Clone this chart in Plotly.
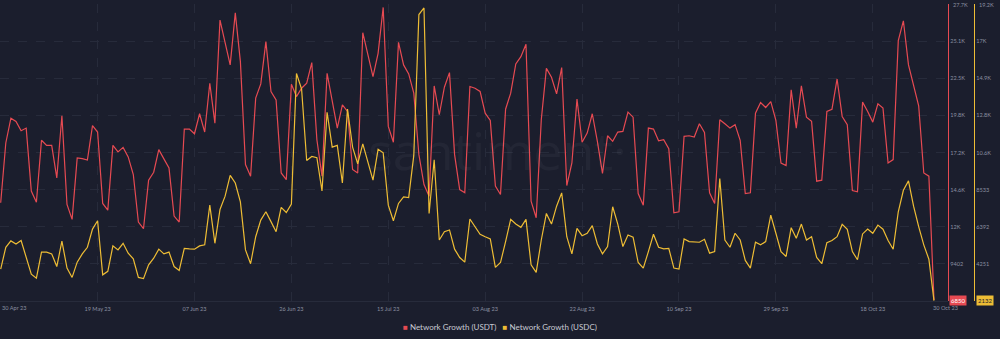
import pandas as pd
import plotly.graph_objects as go

start_date = "2023-04-30"

usdt = [
    13710, 17920, 19670, 19440, 18780, 18970, 14530, 13750, 18110, 17750,
    17750, 15460, 19840, 13590, 12540, 16870, 16820, 16720, 19140, 18690,
    13660, 13190, 17750, 17290, 17610, 16940, 15700, 12350, 11880, 15300,
    15860, 17450, 16800, 16160, 12770, 12350, 18900, 18900, 18570, 19980,
    18690, 22130, 19320, 26580, 24990, 23420, 27090, 23650, 16400, 15580,
    21080, 22080, 25060, 21550, 20960, 15810, 15340, 22060, 21190, 21780,
    22130, 23580, 18150, 15580, 22830, 20960, 18970, 20610, 20140, 16050,
    15810, 25690, 24120, 22600, 24240, 27470, 19090, 17970, 25010, 23420,
    22790, 21430, 17100, 14990, 14170, 21940, 19910, 21850, 22880, 17100,
    14640, 14410, 21900, 21780, 21550, 20020, 19510, 14880, 14290, 20300,
    21430, 23490, 24000, 24870, 13820, 12650, 19560, 23180, 22550, 21380,
    23230, 14920, 16510, 21010, 17970, 18620, 19980, 18040, 15770, 18430,
    18040, 18690, 18740, 20090, 19740, 14360, 13540, 18970, 18900, 18080,
    18150, 17520, 13000, 13070, 18390, 18430, 18340, 19280, 18670, 14410,
    13660, 19560, 19280, 18970, 19210, 18110, 14360, 14410, 20020, 20770,
    20420, 20840, 19510, 16510, 16330, 21660, 18970, 21940, 19740, 19440,
    15230, 15300, 20140, 20300, 22430, 19790, 19210, 14570, 14480, 20800,
    20140, 19390, 20680, 20380, 16510, 16750, 25130, 26530, 23420, 21900,
    20540, 15810, 15580, 6850,
]

usdc = [
    3950, 5210, 5580, 5400, 5600, 4680, 3660, 3430, 4930, 4930,
    4830, 4100, 5560, 4010, 3470, 4350, 4830, 5210, 6260, 6740,
    3620, 3820, 5290, 5060, 5440, 4870, 4540, 3470, 3400, 4200,
    4580, 5100, 4830, 4930, 4100, 3870, 5150, 5120, 5100, 5290,
    5350, 7640, 5440, 7390, 8160, 9360, 8920, 7830, 5060, 4260,
    5820, 6780, 7260, 6690, 6110, 7510, 7220, 7700, 15240, 14340,
    10220, 10450, 10380, 8460, 13000, 10990, 11090, 8920, 13190, 10990,
    10030, 11180, 10130, 9080, 10860, 10660, 7640, 6740, 7740, 8120,
    8080, 10510, 18640, 19020, 7160, 10260, 5630, 6110, 6210, 5100,
    4620, 4350, 6840, 6400, 5960, 5820, 5690, 4050, 4330, 5540,
    6820, 6550, 6360, 6820, 4200, 3760, 5630, 7160, 6550, 7580,
    8350, 5820, 4830, 6300, 5880, 6020, 6460, 5400, 4830, 5250,
    7550, 6550, 5250, 5920, 5790, 4330, 4010, 4960, 5960, 5210,
    5120, 5150, 4010, 3950, 5690, 5540, 5500, 5500, 5670, 4870,
    4960, 9170, 5630, 5210, 6020, 5630, 4450, 4010, 5500, 5350,
    5540, 7070, 6020, 4960, 4680, 6340, 5730, 6550, 5630, 5820,
    4620, 4260, 5480, 5600, 5820, 6530, 6250, 4960, 4490, 5980,
    6260, 6020, 6490, 6250, 5600, 5100, 7260, 8500, 9040, 7580,
    6400, 5350, 4520, 2132,
]

usdt_ticks = [9402, 12016, 14630, 17244, 19858, 22472, 25086, 27700]
usdt_ticktext = ["9402", "12K", "14.6K", "17.2K", "19.8K", "22.5K", "25.1K", "27.7K"]
usdt_range = [6788, 27712]

usdc_ticks = [4251, 6392, 8533, 10674, 12815, 14956, 17097, 19238]
usdc_ticktext = ["4251", "6392", "8533", "10.6K", "12.8K", "14.9K", "17K", "19.2K"]
usdc_range = [2110, 19248]

x_tick_dates = ["2023-05-19", "2023-06-07", "2023-06-26", "2023-07-15",
                "2023-08-03", "2023-08-22", "2023-09-10", "2023-09-29", "2023-10-18"]
first_label = "30 Apr 23"
last_label = "30 Oct 23"

names = ["Network Growth (USDT)", "Network Growth (USDC)"]

RED = "#e64a52"
YEL = "#eebd35"
BG = "#1b1e2d"
GRID = "#272b3b"
TXT = "#8a8fa0"
FS = 5.6

dates = pd.date_range(start_date, periods=len(usdt), freq="D")

fig = go.Figure()
fig.add_trace(go.Scatter(x=dates, y=usdt, mode="lines", name=names[0],
                         line=dict(color=RED, width=1.2), yaxis="y"))
fig.add_trace(go.Scatter(x=dates, y=usdc, mode="lines", name=names[1],
                         line=dict(color=YEL, width=1.2), yaxis="y2"))

x0 = dates[0] - pd.Timedelta(hours=3.3)
x1 = dates[-1] + pd.Timedelta(hours=66)

fig.update_layout(
    width=1000, height=339,
    margin=dict(l=0, r=0, t=4, b=38),
    paper_bgcolor=BG, plot_bgcolor=BG,
    showlegend=False,
    font=dict(family="Lato", color=TXT, size=FS),
    xaxis=dict(
        domain=[0, 0.948], range=[x0, x1], type="date",
        tickvals=pd.to_datetime(x_tick_dates), tickformat="%d %b %y",
        showgrid=True, gridcolor=GRID, griddash="dash", gridwidth=1,
        showline=True, linecolor=GRID, linewidth=1,
        ticks="outside", ticklen=2, tickcolor=BG,
        tickfont=dict(size=FS, color=TXT), zeroline=False,
    ),
    yaxis=dict(
        range=usdt_range, tickvals=usdt_ticks[:-1], ticktext=usdt_ticktext[:-1],
        side="right", anchor="free", position=0.948,
        showline=True, linecolor=RED, linewidth=1.2,
        showgrid=True, gridcolor=GRID, griddash="dash", gridwidth=1,
        zeroline=False, ticks="", tickfont=dict(size=FS, color=TXT),
    ),
    yaxis2=dict(
        range=usdc_range, tickvals=usdc_ticks[:-1], ticktext=usdc_ticktext[:-1],
        side="right", anchor="free", position=0.974, overlaying="y",
        showline=True, linecolor=YEL, linewidth=1.2,
        showgrid=False, zeroline=False, ticks="",
        tickfont=dict(size=FS, color=TXT),
    ),
)

annotations = []
# top tick labels (drawn as annotations so they are not dropped at the edge)
annotations.append(dict(xref="paper", yref="y", x=0.9505, y=usdt_ticks[-1],
                        text=usdt_ticktext[-1], showarrow=False, xanchor="left",
                        yanchor="middle", font=dict(size=FS, color=TXT)))
annotations.append(dict(xref="paper", yref="y2", x=0.9765, y=usdc_ticks[-1],
                        text=usdc_ticktext[-1], showarrow=False, xanchor="left",
                        yanchor="middle", font=dict(size=FS, color=TXT)))
# edge date labels
annotations.append(dict(xref="paper", yref="paper", x=14 / 1000, y=0, yshift=-6,
                        text=first_label, showarrow=False, xanchor="center",
                        yanchor="middle", font=dict(size=FS, color=TXT)))
annotations.append(dict(xref="paper", yref="paper", x=945 / 1000, y=0, yshift=-6,
                        text=last_label, showarrow=False, xanchor="center",
                        yanchor="middle", font=dict(size=FS, color=TXT)))
# last value badges
annotations.append(dict(xref="paper", yref="y", x=0.949, y=usdt[-1],
                        text=str(usdt[-1]), showarrow=False, xanchor="left",
                        yanchor="middle", bgcolor=RED, borderpad=1,
                        font=dict(size=6, color="#ffffff")))
annotations.append(dict(xref="paper", yref="y2", x=0.9755, y=usdc[-1],
                        text=str(usdc[-1]), showarrow=False, xanchor="left",
                        yanchor="middle", bgcolor=YEL, borderpad=1,
                        font=dict(size=6, color="#1b1e2d")))
# watermark
annotations.append(dict(xref="paper", yref="paper", x=0.497, y=0.51,
                        text="santiment·", showarrow=False, xanchor="center",
                        yanchor="middle",
                        font=dict(size=52, family="Open Sans",
                                  color="rgba(255,255,255,0.04)")))
# legend
legend_text = ("<span style='color:%s'>■</span> %s" % (RED, names[0]) +
               "&nbsp;&nbsp;&nbsp;" +
               "<span style='color:%s'>■</span> %s" % (YEL, names[1]))
annotations.append(dict(xref="paper", yref="paper", x=500 / 1000, y=0,
                        yshift=-26, text=legend_text, showarrow=False,
                        xanchor="center", yanchor="middle",
                        font=dict(size=8, color="#c8cad3")))

fig.update_layout(annotations=annotations)

fig.write_html("out.html")
